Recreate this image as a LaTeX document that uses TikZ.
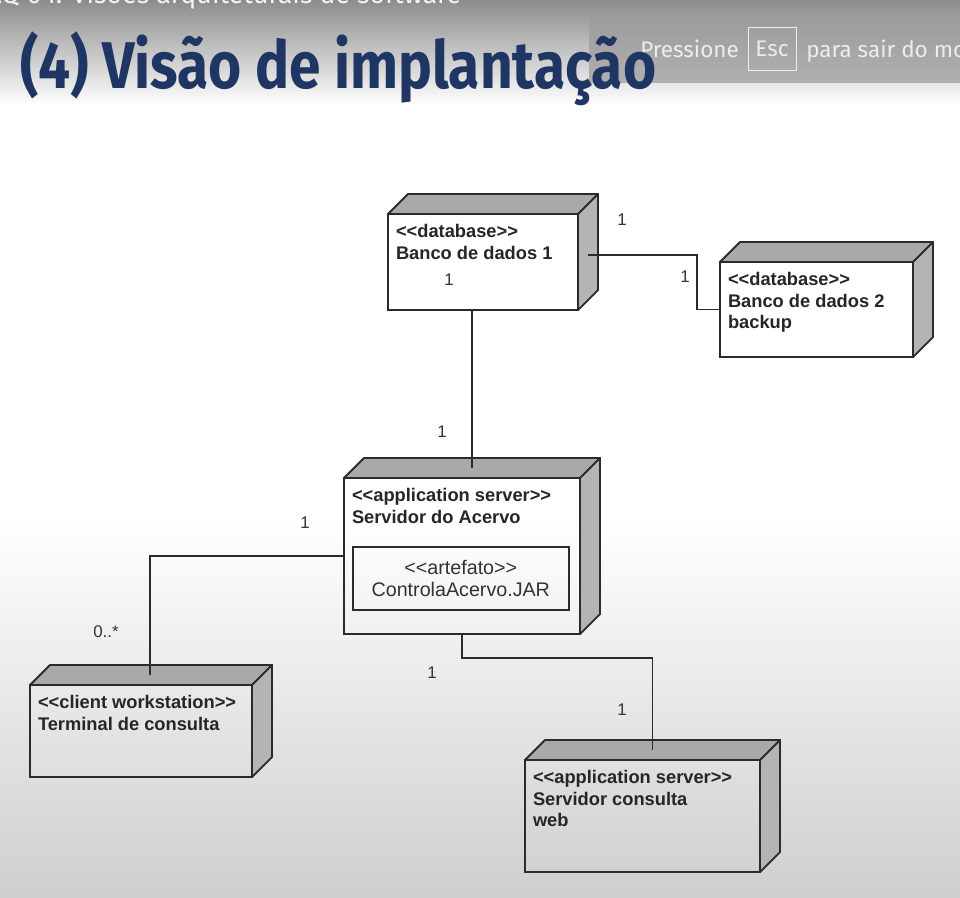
\documentclass[tikz,border=0pt]{standalone}
\usepackage{fontspec}
\setmainfont{Liberation Sans}
\newfontfamily\titlefont{Fira Sans}
\newfontfamily\uifont{Fira Sans}
\usetikzlibrary{calc}
\definecolor{titleblue}{HTML}{1F3564}
\definecolor{linec}{HTML}{2B2B2B}
\definecolor{topc}{HTML}{A9A9A9}
\definecolor{sidec}{HTML}{B4B4B4}
\definecolor{uitext}{HTML}{EDEDED}
\begin{document}
\begin{tikzpicture}[x=0.025cm,y=-0.025cm,
  box/.style={draw=linec, line width=1.3pt, outer sep=0pt, anchor=north west, inner xsep=0.2cm, inner ysep=0.25cm, font=\fontsize{13}{15.5}\selectfont\bfseries, text=black!85},
  face/.style={draw=linec, line width=1.3pt, line join=round},
  conn/.style={draw=linec, line width=1.1pt},
  mult/.style={font=\fontsize{12}{14}\selectfont, text=black!80, inner sep=1pt}]
\useasboundingbox (0,0) rectangle (960,897);
\clip (0,0) rectangle (960,897);
% background of the slide
\fill[white] (0,0) rectangle (960,897);
\shade[top color=gray!90, bottom color=white] (0,0) rectangle (960,105);
\shade[top color=white, bottom color=gray!38] (0,520) rectangle (960,897);
\node[anchor=base west, inner sep=0, font=\uifont\fontsize{19}{22}\selectfont, text=white!92!gray] (crumb) at (-14,3) {AQ 04. Visões arquiteturais de software};
% full screen hint
\shade[top color=gray!78, bottom color=gray!62] (589,16) rectangle (960,82);
\node[anchor=base west, inner sep=0, font=\uifont\fontsize{16}{18}\selectfont, text=uitext] (press) at (640,57) {Pressione};
\node[draw=uitext, line width=0.6pt, minimum width=1.2cm, minimum height=1.075cm, inner sep=0, font=\uifont\fontsize{16}{18}\selectfont, text=uitext] (esc) at (772,48.5) {Esc};
\node[anchor=base west, inner sep=0, font=\uifont\fontsize{16}{18}\selectfont, text=uitext] (leave) at (806,57) {para sair do modo tela cheia};
% title
\node[anchor=base west, inner sep=0, text=titleblue, font=\titlefont\bfseries\fontsize{47}{50}\selectfont, xscale=0.86] (title) at (20,88) {(4) Visão de implantação};

% nodes
\node[box] (db1) at (388,214) {\parbox[t][1.9cm][t]{4.35cm}{<{}<database>{}>\\Banco de dados 1}};
\node[box] (db2) at (720,262) {\parbox[t][1.875cm][t]{4.425cm}{<{}<database>{}>\\Banco de dados 2\\backup}};
\node[box] (srv) at (344,478) {\parbox[t][3.4cm][t]{5.5cm}{<{}<application server>{}>\\Servidor do Acervo}};
\node[draw=linec, line width=1.1pt, anchor=north west, minimum width=5.4cm, minimum height=1.575cm, align=center, font=\fontsize{14}{16}\selectfont, text=black!80] (art) at ([shift={(0.2cm,-1.7cm)}]srv.north west) {<{}<artefato>{}>\\ControlaAcervo.JAR};
\node[box] (term) at (30,685) {\parbox[t][1.8cm][t]{5.15cm}{<{}<client workstation>{}>\\Terminal de consulta}};
\node[box] (web) at (525,760) {\parbox[t][2.3cm][t]{5.475cm}{<{}<application server>{}>\\Servidor consulta\\web}};

% top and side faces
\foreach \n in {db1,db2,srv,term,web}{
  \filldraw[face, fill=topc] (\n.north west) -- ([shift={(0.5cm,0.5cm)}]\n.north west) -- ([shift={(0.5cm,0.5cm)}]\n.north east) -- (\n.north east) -- cycle;
  \filldraw[face, fill=sidec] (\n.north east) -- ([shift={(0.5cm,0.5cm)}]\n.north east) -- ([shift={(0.5cm,0.5cm)}]\n.south east) -- (\n.south east) -- cycle;
}

% links
\draw[conn] ($(db1.south)+(-11,0)$) -- ($(db1.south |- srv.north)+(-11,-10)$);
\draw[conn] ($(db1.east)+(10,-7)$) -- ++(109,0) |- (db2.west);
\draw[conn] (srv.west) -| ($(term.north)+(9,-10)$);
\draw[conn] (srv.south) -- ++(0,24) -| ($(web.north)+(10,-10)$);

% multiplicities
\node[mult] (m1) at (622,220) {1};
\node[mult] (m2) at (685,277) {1};
\node[mult] (m3) at (449,280) {1};
\node[mult] (m4) at (442,432) {1};
\node[mult] (m5) at (305,523) {1};
\node[mult] (m6) at (106,632) {0..*};
\node[mult] (m7) at (432,673) {1};
\node[mult] (m8) at (622,710) {1};
\end{tikzpicture}
\end{document}
